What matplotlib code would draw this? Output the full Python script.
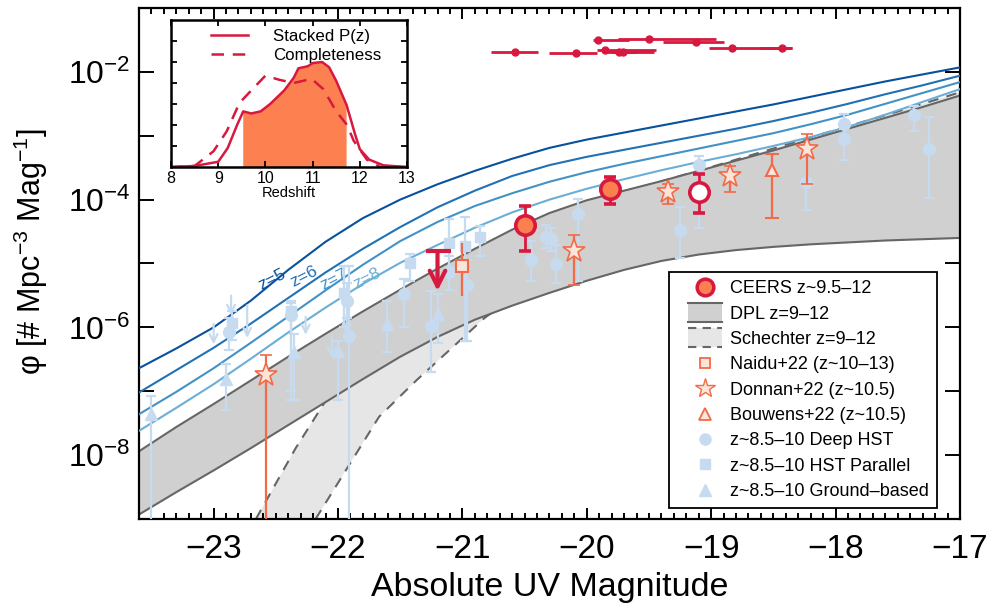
import numpy as np
import matplotlib
matplotlib.use('Agg')
import matplotlib.pyplot as plt
from matplotlib.lines import Line2D
from matplotlib.patches import Rectangle, Patch
from matplotlib.legend_handler import HandlerBase
from matplotlib.ticker import FixedLocator, MultipleLocator, NullLocator

plt.rcParams['font.family'] = ['Liberation Sans', 'DejaVu Sans']
plt.rcParams['mathtext.fontset'] = 'custom'
plt.rcParams['mathtext.rm'] = 'Liberation Sans'
plt.rcParams['mathtext.it'] = 'Liberation Sans:italic'
plt.rcParams['mathtext.bf'] = 'Liberation Sans:bold'

# ---- model curves (log10 phi) ----
M_grid = [-23.6, -23.3, -23.0, -22.7, -22.4, -22.1, -21.8, -21.5, -21.2, -20.9, -20.6, -20.3,
          -20.0, -19.7, -19.4, -19.1, -18.8, -18.5, -18.2, -17.9, -17.6, -17.3, -17.0]
lf_z5 = [-6.64, -6.33, -6.00, -5.58, -5.10, -4.66, -4.29, -4.00, -3.76, -3.55, -3.36, -3.19,
         -3.06, -2.95, -2.84, -2.73, -2.62, -2.51, -2.39, -2.27, -2.15, -2.04, -1.93]
lf_z6 = [-7.02, -6.67, -6.32, -5.94, -5.54, -5.14, -4.77, -4.43, -4.12, -3.86, -3.63, -3.46,
         -3.33, -3.22, -3.11, -3.00, -2.89, -2.77, -2.64, -2.50, -2.35, -2.21, -2.06]
lf_z7 = [-7.36, -7.01, -6.64, -6.24, -5.83, -5.42, -5.02, -4.65, -4.35, -4.10, -3.90, -3.72,
         -3.57, -3.44, -3.32, -3.20, -3.08, -2.96, -2.82, -2.67, -2.50, -2.33, -2.16]
lf_z8 = [-7.62, -7.26, -6.89, -6.49, -6.08, -5.69, -5.32, -4.99, -4.71, -4.44, -4.20, -4.00,
         -3.83, -3.68, -3.54, -3.41, -3.29, -3.16, -3.02, -2.86, -2.67, -2.47, -2.27]
dpl_hi = [-7.94, -7.56, -7.20, -6.83, -6.46, -6.10, -5.75, -5.41, -5.08, -4.77, -4.47, -4.21,
          -4.01, -3.86, -3.71, -3.55, -3.39, -3.23, -3.06, -2.89, -2.72, -2.55, -2.37]
dpl_lo = [-8.93, -8.58, -8.24, -7.89, -7.53, -7.17, -6.81, -6.46, -6.15, -5.88, -5.66, -5.46,
          -5.27, -5.10, -4.96, -4.86, -4.79, -4.74, -4.70, -4.67, -4.64, -4.62, -4.60]

sch_hi_M = [-22.66, -22.34, -22.08, -21.8, -21.5, -21.0, -20.5, -20.0, -19.5,
            -19.0, -18.5, -18.0, -17.5, -17.0]
sch_hi = [-9.0, -7.89, -7.09, -6.45, -5.90, -5.10, -4.50, -4.05, -3.77,
          -3.49, -3.20, -2.91, -2.62, -2.32]
sch_lo_M = [-22.18, -21.67, -21.37, -20.82, -20.5, -20.0, -19.5, -19.0,
            -18.5, -18.0, -17.5, -17.0]
sch_lo = [-9.0, -7.40, -6.83, -5.85, -5.40, -4.90, -4.55, -4.30, -4.10,
          -3.95, -3.82, -3.70]

z_labels = ['z=5', 'z=6', 'z=7', 'z=8']
z_label_M = [-22.53, -22.27, -22.03, -21.77]
z_label_lf = [-5.25, -5.21, -5.25, -5.23]
z_colors = ['#08519c', '#2171b5', '#4292c6', '#6baed6']

# ---- CEERS points ----
ceers_M = [-20.50, -19.81]
ceers_lf = [-4.40, -3.84]
ceers_lo = [-4.81, -4.07]
ceers_hi = [-4.10, -3.64]
ceers_open_M = [-19.10]
ceers_open_lf = [-3.88]
ceers_open_lo = [-4.21]
ceers_open_hi = [-3.60]
ceers_ul_M = [-21.20]
ceers_ul_top = [-4.81]
ceers_ul_tip = [-5.43]

# individual galaxies (top strip)
gal_M = [-20.58, -20.09, -19.91, -19.85, -19.74, -19.71, -19.50, -19.12, -18.83, -18.43]
gal_lf = [-1.69, -1.70, -1.50, -1.66, -1.69, -1.69, -1.48, -1.54, -1.63, -1.63]
gal_Mlo = [-20.77, -20.30, -19.95, -19.92, -19.85, -19.80, -19.75, -19.39, -19.02, -18.61]
gal_Mhi = [-20.39, -19.92, -19.66, -19.44, -19.46, -19.60, -18.96, -18.90, -18.35, -18.35]

# ---- other JWST results ----
naidu_M = [-21.00]
naidu_lf = [-5.04]
naidu_lo = [-5.51]
naidu_hi = [-4.68]
donnan_M = [-22.58, -20.10, -19.35, -18.85, -18.23]
donnan_lf = [-6.74, -4.80, -3.88, -3.63, -3.20]
donnan_lo = [-10.0, -5.34, -4.07, -3.88, -3.75]
donnan_hi = [-6.44, -4.56, -3.75, -3.48, -2.98]
bouwens_M = [-18.51]
bouwens_lf = [-3.54]
bouwens_lo = [-4.29]
bouwens_hi = [-3.29]

# ---- z~8.5-10 HST / ground ----
deep_M = [-22.88, -22.38, -21.93, -21.91, -21.47, -21.25, -21.11, -20.96,
          -20.45, -20.33, -20.29, -20.25, -20.07, -19.25, -19.10, -18.24,
          -17.93, -17.93, -17.37, -17.25]
deep_lf = [-6.08, -5.80, -5.59, -6.13, -5.48, -5.98, -5.13, -5.33,
           -4.94, -4.58, -4.62, -5.01, -4.22, -4.47, -3.46, -3.72,
           -2.81, -3.05, -2.67, -3.21]
deep_lo = [-6.35, -7.14, -5.85, -10.0, -6.00, -6.70, -5.41, -6.21,
           -5.28, -4.76, -4.80, -5.30, -5.28, -4.91, -4.44, -4.16,
           -3.00, -3.38, -2.92, -3.97]
deep_hi = [-5.85, -5.62, -5.30, -5.04, -5.25, -5.43, -4.89, -4.95,
           -4.65, -4.40, -4.45, -4.71, -3.99, -4.11, -3.31, -3.36,
           -2.66, -2.90, -2.53, -2.70]
par_M = [-22.85, -22.38, -21.95, -21.42, -21.11, -20.98, -20.86]
par_lf = [-5.93, -5.74, -5.46, -5.00, -4.68, -4.73, -4.58]
par_lo = [-6.20, -6.99, -6.00, -5.28, -5.07, -6.21, -4.89]
par_hi = [-5.75, -5.59, -5.04, -4.85, -4.30, -4.27, -4.42]
gb_M = [-23.50, -22.90, -22.35, -22.00, -21.61, -21.20]
gb_lf = [-7.35, -6.81, -6.39, -6.37, -5.95, -5.79]
gb_lo = [-10.0, -7.30, -7.14, -7.14, -6.39, -6.24]
gb_hi = [-7.08, -6.57, -6.10, -6.21, -5.59, -5.48]
ul_M = [-23.00, -22.86, -22.73, -22.26, -22.05, -21.93]
ul_top = [-5.90, -5.46, -5.61, -5.79, -6.10, -5.75]
ul_tip = [-6.31, -5.85, -6.21, -6.16, -6.52, -6.15]

# ---- inset: redshift distributions ----
pz_z = [8.0, 8.5, 9.0, 9.2, 9.4, 9.53, 9.7, 9.9, 10.1, 10.4, 10.6, 10.7,
        10.9, 11.0, 11.2, 11.35, 11.5, 11.72, 11.9, 12.0, 12.2, 12.5, 13.0]
pz = [0.0, 0.01, 0.05, 0.18, 0.40, 0.53, 0.51, 0.53, 0.60, 0.73, 0.85, 0.94,
      0.96, 0.99, 1.0, 0.95, 0.82, 0.59, 0.31, 0.17, 0.07, 0.016, 0.0]
comp_z = [8.0, 8.5, 8.9, 9.18, 9.45, 9.66, 10.0, 10.3, 10.6, 10.98, 11.23,
          11.5, 11.73, 11.87, 12.15, 12.43, 13.0]
comp = [0.0, 0.01, 0.15, 0.34, 0.61, 0.71, 0.87, 0.83, 0.80, 0.84, 0.74,
        0.53, 0.40, 0.25, 0.07, 0.0, 0.0]
pz_zmin, pz_zmax = 9.53, 11.72

RED = '#d7193f'
ORANGE = '#fc7f4f'
TOMATO = '#f26b48'
PALE = '#fde4d8'
LBLUE = '#c6dbef'
GREY_LINE = '#666666'


def p(v):
    return 10.0 ** np.asarray(v, dtype=float)


def yerr(lf, lo, hi):
    return [p(lf) - p(lo), p(hi) - p(lf)]


class BandHandler(HandlerBase):
    # grey band with edge lines, drawn in the middle part of the handle box
    def __init__(self, fc, ls):
        super().__init__()
        self.fc = fc
        self.ls = ls

    def create_artists(self, legend, orig_handle, xd, yd, w, h, fontsize, trans):
        x0 = -xd + 0.185 * w
        ww = 0.63 * w
        y0 = -yd - 0.22 * h
        hh = 1.45 * h
        r = Rectangle((x0, y0), ww, hh, facecolor=self.fc, edgecolor='none', transform=trans)
        l1 = Line2D([x0, x0 + ww], [y0 + hh, y0 + hh], color=GREY_LINE, ls=self.ls, lw=1.5, transform=trans)
        l2 = Line2D([x0, x0 + ww], [y0, y0], color=GREY_LINE, ls=self.ls, lw=1.5, transform=trans)
        return [r, l1, l2]


fig = plt.figure(figsize=(9.92, 6.10), dpi=100)
ax = fig.add_axes([0.1401, 0.1492, 0.8276, 0.8377])
ax.set_yscale('log')
ax.set_xlim(-23.6, -17.0)
ax.set_ylim(1e-9, 1e-1)

# Schechter band (under the DPL band)
poly_M = list(sch_hi_M) + list(sch_lo_M[::-1])
poly_lf = list(sch_hi) + list(sch_lo[::-1])
ax.fill(poly_M, p(poly_lf), facecolor='#e6e6e6', edgecolor='none', zorder=1)
ax.plot(sch_hi_M, p(sch_hi), color=GREY_LINE, ls=(0, (5, 4)), lw=1.5, zorder=1.2)
ax.plot(sch_lo_M, p(sch_lo), color=GREY_LINE, ls=(0, (5, 4)), lw=1.5, zorder=1.2)

# DPL band
ax.fill_between(M_grid, p(dpl_lo), p(dpl_hi), facecolor='#d0d0d0', edgecolor='none', zorder=2)
ax.plot(M_grid, p(dpl_hi), color=GREY_LINE, lw=1.5, zorder=2.2)
ax.plot(M_grid, p(dpl_lo), color=GREY_LINE, lw=1.5, zorder=2.2)

# lower-z luminosity functions
for lf, c, lab, lm, ll in zip([lf_z5, lf_z6, lf_z7, lf_z8], z_colors, z_labels, z_label_M, z_label_lf):
    ax.plot(M_grid, p(lf), color=c, lw=1.5, zorder=3)
    ax.text(lm, 10 ** ll, lab, color=c, fontsize=12.5, rotation=27,
            ha='center', va='center', rotation_mode='anchor', zorder=3)

# light blue literature points
eb = dict(ls='none', ecolor=LBLUE, elinewidth=1.6, capsize=3.5, capthick=1.6, zorder=3.5)
ax.errorbar(deep_M, p(deep_lf), yerr=yerr(deep_lf, deep_lo, deep_hi), marker='o', ms=8.5,
            mfc=LBLUE, mec=LBLUE, **eb)
ax.errorbar(par_M, p(par_lf), yerr=yerr(par_lf, par_lo, par_hi), marker='s', ms=7.5,
            mfc=LBLUE, mec=LBLUE, **eb)
ax.errorbar(gb_M, p(gb_lf), yerr=yerr(gb_lf, gb_lo, gb_hi), marker='^', ms=8.5,
            mfc=LBLUE, mec=LBLUE, **eb)
for m, t, b in zip(ul_M, ul_top, ul_tip):
    ax.annotate('', xy=(m, 10 ** b), xytext=(m, 10 ** t),
                arrowprops=dict(arrowstyle='->', color=LBLUE, lw=1.6, mutation_scale=14),
                zorder=3.5)

# other JWST results
ax.errorbar(naidu_M, p(naidu_lf), yerr=yerr(naidu_lf, naidu_lo, naidu_hi), marker='s', ms=9,
            mfc=PALE, mec=TOMATO, mew=1.5, ls='none', ecolor=TOMATO, elinewidth=1.6,
            capsize=0, zorder=4)
ax.errorbar(donnan_M, p(donnan_lf), yerr=yerr(donnan_lf, donnan_lo, donnan_hi), marker='*', ms=17,
            mfc=PALE, mec=TOMATO, mew=1.2, ls='none', ecolor=TOMATO, elinewidth=1.6,
            capsize=4, capthick=1.6, zorder=4)
ax.errorbar(bouwens_M, p(bouwens_lf), yerr=yerr(bouwens_lf, bouwens_lo, bouwens_hi), marker='^', ms=9,
            mfc=PALE, mec=TOMATO, mew=1.5, ls='none', ecolor=TOMATO, elinewidth=1.6,
            capsize=5, capthick=1.6, zorder=4)

# CEERS
ax.errorbar(gal_M, p(gal_lf), xerr=[np.subtract(gal_M, gal_Mlo), np.subtract(gal_Mhi, gal_M)],
            marker='o', ms=5, color=RED, ls='none', elinewidth=2, capsize=0, zorder=5)
ax.errorbar(ceers_M, p(ceers_lf), yerr=yerr(ceers_lf, ceers_lo, ceers_hi), marker='o', ms=14,
            mfc=ORANGE, mec=RED, mew=2.6, ls='none', ecolor=RED, elinewidth=2, capsize=4.5,
            capthick=2, zorder=5)
ax.errorbar(ceers_open_M, p(ceers_open_lf), yerr=yerr(ceers_open_lf, ceers_open_lo, ceers_open_hi),
            marker='o', ms=14, mfc='white', mec=RED, mew=2.6, ls='none', ecolor=RED,
            elinewidth=2, capsize=4.5, capthick=2, zorder=5)
ax.plot(ceers_ul_M, p(ceers_ul_top), marker='_', ms=18, mew=3, color=RED, ls='none', zorder=5)
for m, t, b in zip(ceers_ul_M, ceers_ul_top, ceers_ul_tip):
    ax.annotate('', xy=(m, 10 ** b), xytext=(m, 10 ** t),
                arrowprops=dict(arrowstyle='->', color=RED, lw=3, mutation_scale=28,
                                shrinkA=0, shrinkB=0), zorder=5)

# axes styling
ax.xaxis.set_major_locator(MultipleLocator(1))
ax.xaxis.set_minor_locator(MultipleLocator(0.1))
ax.yaxis.set_major_locator(FixedLocator([10.0 ** k for k in range(-9, 0)]))
ax.yaxis.set_minor_locator(NullLocator())
ax.set_yticklabels(['' if k % 2 else r'$\mathregular{10^{%d}}$' % k for k in range(-9, 0)])
ax.tick_params(which='both', direction='in', top=True, right=True, width=1.4)
ax.tick_params(axis='x', which='major', length=8, labelsize=24, pad=11)
ax.tick_params(axis='x', which='minor', length=4)
ax.tick_params(axis='y', which='major', length=11, labelsize=23, pad=6)
for s in ax.spines.values():
    s.set_linewidth(1.6)
ax.set_xlabel('Absolute UV Magnitude', fontsize=24.5, labelpad=5)
ax.set_ylabel('φ [# Mpc$^{-3}$ Mag$^{-1}$]', fontsize=22)
ax.yaxis.set_label_coords(-0.108, 0.5225)

# legend
h_ceers = Line2D([], [], marker='o', ms=12, mfc=ORANGE, mec=RED, mew=2.5, ls='none')
h_dpl = Patch()
h_sch = Patch()
h_naidu = Line2D([], [], marker='s', ms=7, mfc=PALE, mec=TOMATO, mew=1.3, ls='none')
h_donnan = Line2D([], [], marker='*', ms=15, mfc=PALE, mec=TOMATO, mew=1.0, ls='none')
h_bouwens = Line2D([], [], marker='^', ms=8, mfc=PALE, mec=TOMATO, mew=1.3, ls='none')
h_deep = Line2D([], [], marker='o', ms=8, color=LBLUE, ls='none')
h_par = Line2D([], [], marker='s', ms=7.5, color=LBLUE, ls='none')
h_gb = Line2D([], [], marker='^', ms=8, color=LBLUE, ls='none')
handles = [h_ceers, h_dpl, h_sch, h_naidu, h_donnan, h_bouwens, h_deep, h_par, h_gb]
labels = ['CEERS z~9.5–12', 'DPL z=9–12', 'Schechter z=9–12', 'Naidu+22 (z~10–13)',
          'Donnan+22 (z~10.5)', 'Bouwens+22 (z~10.5)', 'z~8.5–10 Deep HST',
          'z~8.5–10 HST Parallel', 'z~8.5–10 Ground–based']
leg = ax.legend(handles, labels, loc='lower right', bbox_to_anchor=(0.972, 0.0215),
                borderaxespad=0, fontsize=13, frameon=True, fancybox=False,
                edgecolor='black', framealpha=1, handlelength=3.0, handletextpad=-0.1,
                labelspacing=0.46, borderpad=0.45,
                handler_map={h_dpl: BandHandler('#d0d0d0', '-'),
                             h_sch: BandHandler('#e6e6e6', (0, (4, 3)))})
leg.get_frame().set_linewidth(1.3)
leg.set_zorder(10)

# inset
axi = fig.add_axes([0.1724, 0.7262, 0.2379, 0.2410])
pz_arr = np.asarray(pz_z)
axi.fill_between(pz_z, 0, pz, where=(pz_arr >= pz_zmin) & (pz_arr <= pz_zmax),
                 facecolor='#fd8050', edgecolor='none')
axi.plot(pz_z, pz, color=RED, lw=1.8, label='Stacked P(z)')
axi.plot(comp_z, comp, color=RED, lw=1.8, ls=(0, (5, 3.5)), label='Completeness')
axi.set_xlim(8, 13)
axi.set_ylim(0, 1.4)
axi.set_yticks([0.2, 0.4, 0.6, 0.8, 1.0, 1.2])
axi.set_yticklabels([])
axi.xaxis.set_major_locator(MultipleLocator(1))
axi.tick_params(direction='in', top=True, right=True, length=4, width=1.3, labelsize=11.5, pad=3)
for s in axi.spines.values():
    s.set_linewidth(1.8)
axi.set_xlabel('Redshift', fontsize=10.5, labelpad=0)
axi.legend(loc='upper center', frameon=False, fontsize=12.2, handlelength=2.2,
           handletextpad=1.5, labelspacing=0.2, borderaxespad=0.15,
           bbox_to_anchor=(0.53, 1.0))

fig.savefig('out.png', dpi=100)
